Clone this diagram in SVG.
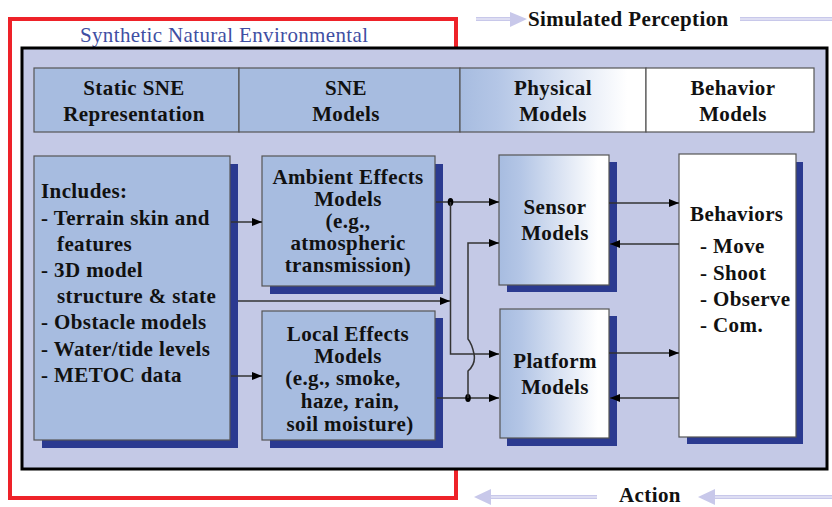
<svg xmlns="http://www.w3.org/2000/svg" width="832" height="507" viewBox="0 0 832 507">
<defs>
<linearGradient id="g" x1="0" y1="0" x2="1" y2="0">
<stop offset="0" stop-color="#a7bce0"/>
<stop offset="0.2" stop-color="#b4c6e6"/>
<stop offset="0.9" stop-color="#ffffff"/>
<stop offset="1" stop-color="#ffffff"/>
</linearGradient>
<marker id="ah" viewBox="0 0 10 8" refX="10" refY="4" markerWidth="10" markerHeight="8" markerUnits="userSpaceOnUse" orient="auto">
<path d="M0,0 L10,4 L0,8 Z" fill="#000"/>
</marker>
</defs>
<style>
.t{font-family:"Liberation Serif","Times New Roman",serif;font-weight:bold;font-size:21px;fill:#111;letter-spacing:0.4px}
.c{text-anchor:middle}
.box{fill:#a7bce0;stroke:#555;stroke-width:1.2}
.gbox{fill:url(#g);stroke:#555;stroke-width:1.2}
.wbox{fill:#fff;stroke:#555;stroke-width:1.2}
.sh{fill:#2b3a90}
.ar{fill:none;stroke:#333;stroke-width:1.5;marker-end:url(#ah)}
.lav{stroke:#c8c8ea;stroke-width:4;fill:none}
.lavi{stroke:#f4f4fc;stroke-width:1.2;fill:none}
</style>
<rect width="832" height="507" fill="#fff"/>

<!-- SNE red frame (behind panel) -->
<g id="sne-frame">
<rect x="10" y="19" width="446" height="479" fill="none" stroke="#ee2229" stroke-width="4"/>
<text x="80" y="42" font-family="'Liberation Serif','Times New Roman',serif" font-size="21" fill="#3f4fa3" textLength="288" lengthAdjust="spacing">Synthetic Natural Environmental</text>
</g>

<!-- top / bottom flow arrows -->
<g id="simulated-perception">
<line class="lav" x1="476" y1="19" x2="512" y2="19"/>
<line class="lavi" x1="476" y1="19" x2="512" y2="19"/>
<polygon points="510,12 527,19 510,27" fill="#c8c8ea"/>
<line class="lav" x1="740" y1="19" x2="832" y2="19"/>
<line class="lavi" x1="740" y1="19" x2="832" y2="19"/>
<text class="t" x="528" y="26">Simulated Perception</text>
</g>
<g id="action">
<line class="lav" x1="488" y1="497" x2="597" y2="497"/>
<line class="lavi" x1="488" y1="497" x2="597" y2="497"/>
<polygon points="474,497 491,489 491,505" fill="#c8c8ea"/>
<line class="lav" x1="712" y1="497" x2="832" y2="497"/>
<line class="lavi" x1="712" y1="497" x2="832" y2="497"/>
<polygon points="698,497 715,489 715,505" fill="#c8c8ea"/>
<text class="t" x="619" y="502">Action</text>
</g>

<!-- main panel -->
<g id="panel">
<rect x="22" y="48" width="805" height="421" fill="#c4c9e6" stroke="#000" stroke-width="3"/>
</g>

<!-- header row -->
<g id="header">
<rect x="34" y="68" width="205" height="64" fill="#a7bce0" stroke="#555" stroke-width="1.2"/>
<rect x="239" y="68" width="221" height="64" fill="#a7bce0" stroke="#555" stroke-width="1.2"/>
<rect x="460" y="68" width="186" height="64" fill="url(#g)" stroke="#555" stroke-width="1.2"/>
<rect x="646" y="68" width="168" height="64" fill="#fff" stroke="#555" stroke-width="1.2"/>
<text class="t c" x="134" y="95">Static SNE</text>
<text class="t c" x="134" y="121">Representation</text>
<text class="t c" x="346" y="95">SNE</text>
<text class="t c" x="346" y="121">Models</text>
<text class="t c" x="553" y="95">Physical</text>
<text class="t c" x="553" y="121">Models</text>
<text class="t c" x="733" y="95">Behavior</text>
<text class="t c" x="733" y="121">Models</text>
</g>

<!-- nodes -->
<g id="static-sne">
<rect class="sh" x="42" y="164" width="196" height="284"/>
<rect class="box" x="34" y="156" width="196" height="284"/>
<text class="t" x="41" y="198">Includes:</text>
<text class="t" x="41" y="225">- Terrain skin and</text>
<text class="t" x="57" y="251">features</text>
<text class="t" x="41" y="277">- 3D model</text>
<text class="t" x="57" y="303">structure &amp; state</text>
<text class="t" x="41" y="329">- Obstacle models</text>
<text class="t" x="41" y="356">- Water/tide levels</text>
<text class="t" x="41" y="382">- METOC data</text>
</g>

<g id="ambient-effects">
<rect class="sh" x="270" y="164" width="173" height="130"/>
<rect class="box" x="262" y="156" width="173" height="130"/>
<text class="t c" x="348" y="184">Ambient Effects</text>
<text class="t c" x="348" y="206">Models</text>
<text class="t c" x="348" y="228">(e.g.,</text>
<text class="t c" x="348" y="250">atmospheric</text>
<text class="t c" x="348" y="272">transmission)</text>
</g>

<g id="local-effects">
<rect class="sh" x="270" y="318" width="173" height="130"/>
<rect class="box" x="262" y="311" width="173" height="129"/>
<text class="t c" x="348" y="341">Local Effects</text>
<text class="t c" x="348" y="363">Models</text>
<text class="t c" x="343" y="385">(e.g., smoke,</text>
<text class="t c" x="350" y="408">haze, rain,</text>
<text class="t c" x="350" y="431">soil moisture)</text>
</g>

<g id="sensor-models">
<rect class="sh" x="507" y="162" width="110" height="130"/>
<rect class="gbox" x="499" y="155" width="110" height="130"/>
<text class="t c" x="555" y="214">Sensor</text>
<text class="t c" x="555" y="240">Models</text>
</g>

<g id="platform-models">
<rect class="sh" x="507" y="316" width="110" height="130"/>
<rect class="gbox" x="500" y="309" width="109" height="129"/>
<text class="t c" x="555" y="368">Platform</text>
<text class="t c" x="555" y="394">Models</text>
</g>

<g id="behaviors">
<rect class="sh" x="687" y="162" width="116" height="282"/>
<rect class="wbox" x="679" y="154" width="117" height="283"/>
<text class="t" x="690" y="221">Behaviors</text>
<text class="t" x="700" y="253">- Move</text>
<text class="t" x="700" y="280">- Shoot</text>
<text class="t" x="700" y="306">- Observe</text>
<text class="t" x="700" y="332">- Com.</text>
</g>

<!-- connectors -->
<g id="connectors">
<line class="ar" x1="231" y1="222" x2="262" y2="222"/>
<line class="ar" x1="231" y1="376" x2="262" y2="376"/>
<line class="ar" x1="238" y1="301" x2="450" y2="301"/>
<line class="ar" x1="436" y1="202" x2="499" y2="202"/>
<ellipse cx="450.5" cy="202" rx="2.8" ry="4" fill="#000"/>
<polyline class="ar" points="450.5,202 450.5,354 499,354"/>
<line class="ar" x1="437" y1="398" x2="499" y2="398"/>
<ellipse cx="468" cy="398" rx="2.8" ry="4" fill="#000"/>
<path class="ar" d="M468,398 L468,371 Q476,364 474,354 Q472,344 468,339 L468,243 L499,243"/>
<line class="ar" x1="609" y1="203" x2="679" y2="203"/>
<line class="ar" x1="679" y1="244" x2="610" y2="244"/>
<line class="ar" x1="609" y1="353" x2="679" y2="353"/>
<line class="ar" x1="679" y1="398" x2="610" y2="398"/>
</g>
</svg>
